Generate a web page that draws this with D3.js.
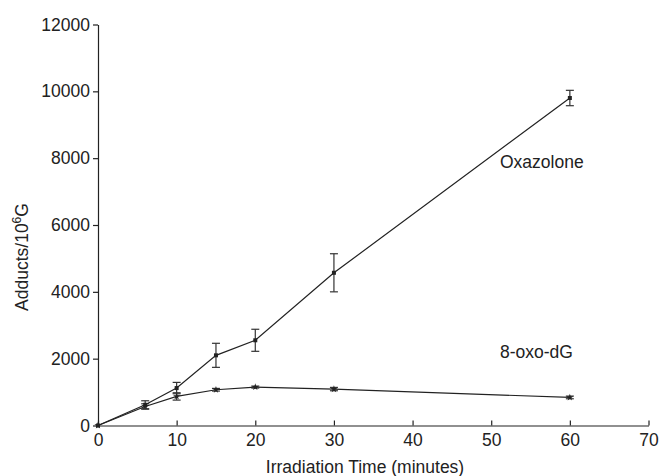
<!DOCTYPE html>
<html lang="en">
<head>
<meta charset="UTF-8">
<script src="https://d3js.org/d3.v7.min.js"></script>
<style>
    body { margin: 0; background: #fff; }
    svg text { font-family: "Liberation Sans", Arial, sans-serif; fill: #222; }
</style>
</head>
<body>
<svg width="662" height="476"></svg>
<script>
    // irradiation times (minutes)
    const times = [0, 6, 10, 15, 20, 30, 60];
    const oxazolone = [0, 620, 1120, 2100, 2550, 4570, 9800];
    const oxazoloneErr = [0, 120, 170, 360, 330, 570, 230];
    const oxodG = [0, 570, 870, 1070, 1150, 1090, 840];
    const oxodGErr = [0, 80, 110, 40, 30, 50, 40];
    const xTicks = [0, 10, 20, 30, 40, 50, 60, 70];
    const yTicks = [0, 2000, 4000, 6000, 8000, 10000, 12000];

    const svg = d3.select("svg");
    const ink = "#222";
    const fs = "17.5px";

    const x = d3.scaleLinear().domain([0, 70]).range([98, 648.5]);
    const y = d3.scaleLinear().domain([0, 12000]).range([425.5, 24.5]);

    // axes
    const xAxis = svg.append("g")
        .attr("transform", `translate(0,${y(0)})`)
        .call(d3.axisBottom(x).tickValues(xTicks).tickFormat(d3.format("d"))
            .tickSizeInner(-5).tickSizeOuter(0).tickPadding(8));
    const yAxis = svg.append("g")
        .attr("transform", `translate(${x(0)},0)`)
        .call(d3.axisLeft(y).tickValues(yTicks).tickFormat(d3.format("d"))
            .tickSizeInner(5).tickSizeOuter(0).tickPadding(3));

    [xAxis, yAxis].forEach(g => {
        g.select(".domain").attr("stroke", ink).attr("stroke-width", 1.2);
        g.selectAll(".tick line").attr("stroke", ink).attr("stroke-width", 1.2);
        g.selectAll(".tick text").style("font-size", fs).attr("fill", ink);
    });
    xAxis.selectAll(".tick text").attr("dy", "0.71em");

    // axis titles
    svg.append("text")
        .attr("x", 365).attr("y", 473)
        .attr("text-anchor", "middle")
        .style("font-size", fs)
        .text("Irradiation Time (minutes)");

    const yTitle = svg.append("text")
        .attr("transform", "translate(28,257) rotate(-90)")
        .attr("text-anchor", "middle")
        .style("font-size", fs);
    yTitle.append("tspan").text("Adducts/10");
    yTitle.append("tspan").attr("dy", -7).style("font-size", "12px").text("6");
    yTitle.append("tspan").attr("dy", 7).text("G");

    function drawSeries(values, errs, marker) {
        const pts = times.map((t, i) => ({ t, v: values[i], e: errs[i] }));

        svg.append("path")
            .datum(pts)
            .attr("fill", "none")
            .attr("stroke", ink)
            .attr("stroke-width", 1.2)
            .attr("d", d3.line().x(d => x(d.t)).y(d => y(d.v)));

        // error bars
        const eb = svg.append("g").attr("stroke", "#333").attr("stroke-width", 1.2);
        pts.filter(d => d.e > 0).forEach(d => {
            const cx = x(d.t);
            eb.append("line").attr("x1", cx).attr("x2", cx).attr("y1", y(d.v - d.e)).attr("y2", y(d.v + d.e));
            eb.append("line").attr("x1", cx - 4).attr("x2", cx + 4).attr("y1", y(d.v - d.e)).attr("y2", y(d.v - d.e));
            eb.append("line").attr("x1", cx - 4).attr("x2", cx + 4).attr("y1", y(d.v + d.e)).attr("y2", y(d.v + d.e));
        });

        svg.append("g").selectAll("path")
            .data(pts)
            .join("path")
            .attr("transform", d => `translate(${x(d.t)},${y(d.v)})`)
            .attr("d", d3.symbol().type(marker).size(16))
            .attr("fill", ink);
    }

    drawSeries(oxodG, oxodGErr, d3.symbolStar);
    drawSeries(oxazolone, oxazoloneErr, d3.symbolSquare);

    // series labels
    svg.append("text")
        .attr("x", 500).attr("y", 168)
        .style("font-size", fs)
        .text("Oxazolone");
    svg.append("text")
        .attr("x", 500).attr("y", 358)
        .style("font-size", fs)
        .text("8-oxo-dG");
</script>
</body>
</html>
